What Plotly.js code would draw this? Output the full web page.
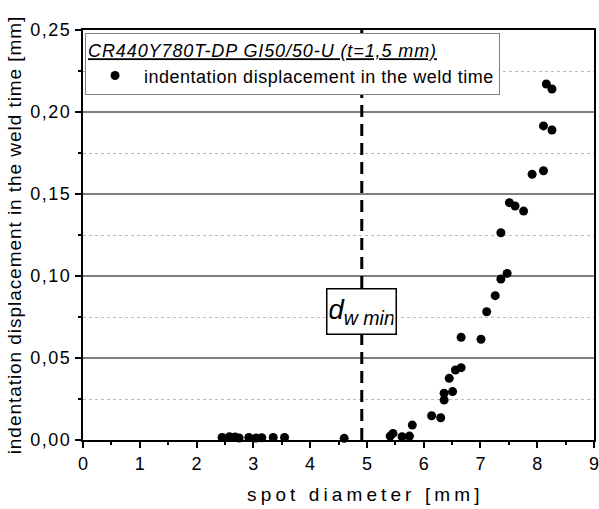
<!DOCTYPE html>
<html>
<head>
<meta charset="utf-8">
<script src="https://cdn.plot.ly/plotly-3.0.1.min.js"></script>
<style>
html,body{margin:0;padding:0;background:#fff;}
#chart{width:599px;height:509px;}
.annotation[data-index="1"] text{letter-spacing:4.1px;}
.ytitle{letter-spacing:0.95px;}
.ytick text{letter-spacing:1.5px;}
.legendtext{letter-spacing:0.5px;}
.legendtitletext{letter-spacing:0.9px;}
</style>
</head>
<body>
<div id="chart"></div>
<script>
// spot diameter [mm]
const spotDiameter = [2.45, 2.58, 2.68, 2.75, 2.92, 3.05, 3.15, 3.35, 3.55, 4.60,
  5.41, 5.46, 5.62, 5.75, 5.80, 6.14, 6.30, 6.36, 6.36, 6.51, 6.45, 6.56, 6.66,
  6.66, 7.01, 7.11, 7.26, 7.36, 7.47, 7.36, 7.51, 7.61, 7.76, 7.91, 8.11, 8.16,
  8.26, 8.11, 8.26];
// indentation displacement in the weld time [mm]
const displacement = [0.0015, 0.0020, 0.0018, 0.0012, 0.0015, 0.0012, 0.0014, 0.0016, 0.0015, 0.0010,
  0.0024, 0.0040, 0.0020, 0.0024, 0.0091, 0.0148, 0.0136, 0.0244, 0.0285, 0.0295, 0.0376, 0.0427, 0.0441,
  0.0626, 0.0614, 0.0782, 0.0880, 0.0982, 0.1016, 0.1264, 0.1447, 0.1427, 0.1396, 0.1620, 0.1642, 0.2171,
  0.2140, 0.1915, 0.1890];
const dwMin = 4.91;
const legendTitle = "CR440Y780T-DP GI50/50-U (t=1,5 mm)";
const seriesName = "indentation displacement in the weld time";
const xTitle = "spot diameter [mm]";
const yTitle = "indentation displacement in the weld time [mm]";
const xTicks = [0,1,2,3,4,5,6,7,8,9];
const yTicks = [0, 0.05, 0.10, 0.15, 0.20, 0.25];

const font = "Liberation Sans, Arial, sans-serif";

const data = [{
  x: spotDiameter, y: displacement, type: 'scatter', mode: 'markers',
  name: seriesName,
  marker: {color: '#000', size: 9, symbol: 'circle'},
  cliponaxis: false
}];

const layout = {
  width: 599, height: 509,
  margin: {l: 83, r: 5, t: 30, b: 69},
  paper_bgcolor: '#fff', plot_bgcolor: '#fff',
  separators: ', ',
  font: {family: font, color: '#000', size: 18},
  showlegend: true,
  legend: {
    x: 0.004, y: 0.993, xanchor: 'left', yanchor: 'top',
    bgcolor: '#fff', bordercolor: '#808080', borderwidth: 1,
    font: {family: font, size: 18, color: '#000'},
    title: {text: '<i><u>' + legendTitle + '</u></i>', side: 'top', font: {family: font, size: 18, color: '#000'}},
    itemwidth: 48, tracegroupgap: 0
  },
  xaxis: {
    range: [0, 9], tickvals: xTicks, ticktext: xTicks.map(String),
    showline: true, linecolor: '#000', linewidth: 2, mirror: true,
    ticks: 'outside', ticklen: 6, tickwidth: 2, tickcolor: '#000',
    showgrid: false, zeroline: false, ticklabeloverflow: 'allow',
    tickfont: {family: font, size: 18},
    minor: {dtick: 0.5, tick0: 0, ticks: 'outside', ticklen: 3, tickwidth: 2, tickcolor: '#000', showgrid: false}
  },
  yaxis: {
    range: [0, 0.25], tickvals: yTicks, ticktext: yTicks.map(v => v.toFixed(2).replace('.', ',')),
    showline: true, linecolor: '#000', linewidth: 2, mirror: true,
    ticks: 'outside', ticklen: 6, tickwidth: 2, tickcolor: '#000',
    showgrid: true, gridcolor: '#808080', gridwidth: 1.5, zeroline: false,
    tickfont: {family: font, size: 18},
    minor: {dtick: 0.025, tick0: 0, ticks: 'outside', ticklen: 3, tickwidth: 2, tickcolor: '#000',
      showgrid: true, gridcolor: '#bbbbbb', griddash: 'dot', gridwidth: 1},
    title: {text: yTitle, font: {family: font, size: 19}, standoff: 4}
  },
  shapes: [{
    type: 'line', xref: 'x', yref: 'paper', x0: dwMin, x1: dwMin, y0: 0, y1: 1,
    line: {color: '#000', width: 3, dash: '12px,7px'}
  }],
  annotations: [{
    xref: 'x', yref: 'y', x: dwMin, y: 0.0784,
    text: '<i>d</i><sub><i>w min</i></sub>', showarrow: false,
    font: {family: font, size: 28, color: '#000'},
    bgcolor: '#fff', bordercolor: '#000', borderwidth: 1.5, borderpad: 2,
    width: 64, height: 40
  }, {
    xref: 'paper', yref: 'paper', x: 0.553, y: -0.134, xanchor: 'center', yanchor: 'middle',
    text: xTitle, showarrow: false, font: {family: font, size: 19, color: '#000'}
  }]
};

Plotly.newPlot('chart', data, layout, {displayModeBar: false, staticPlot: true});
</script>
</body>
</html>
